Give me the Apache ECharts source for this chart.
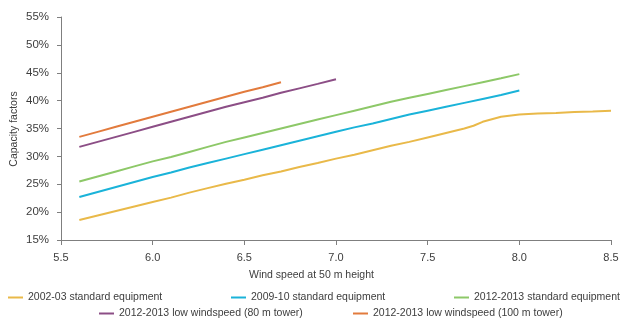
<!DOCTYPE html>
<html>
<head>
<meta charset="utf-8">
<script src="https://cdn.jsdelivr.net/npm/echarts@6/dist/echarts.min.js"></script>
<style>
  html, body { margin: 0; padding: 0; background: #fff; }
  #chart { width: 637px; height: 330px; }
</style>
</head>
<body>
<div id="chart"></div>
<script>
// Wind speed at 50 m height (m/s) for each curve
const speeds2002 = [5.6, 5.7, 5.8, 5.9, 6.0, 6.1, 6.2, 6.3, 6.4, 6.5, 6.6, 6.7, 6.8, 6.9, 7.0, 7.1, 7.2, 7.3, 7.4, 7.5, 7.6, 7.7, 7.75, 7.8, 7.9, 8.0, 8.1, 8.2, 8.3, 8.4, 8.5];
const speedsStd = [5.6, 5.7, 5.8, 5.9, 6.0, 6.1, 6.2, 6.3, 6.4, 6.5, 6.6, 6.7, 6.8, 6.9, 7.0, 7.1, 7.2, 7.3, 7.4, 7.5, 7.6, 7.7, 7.8, 7.9, 8.0];
const speedsLow80 = [5.6, 5.7, 5.8, 5.9, 6.0, 6.1, 6.2, 6.3, 6.4, 6.5, 6.6, 6.7, 6.8, 6.9, 7.0];
const speedsLow100 = [5.6, 5.7, 5.8, 5.9, 6.0, 6.1, 6.2, 6.3, 6.4, 6.5, 6.6, 6.7];

// Capacity factors (%)
const cf2002 = [18.6, 19.4, 20.2, 21.0, 21.8, 22.6, 23.5, 24.3, 25.1, 25.8, 26.6, 27.3, 28.1, 28.8, 29.6, 30.3, 31.1, 31.9, 32.6, 33.4, 34.2, 35.0, 35.5, 36.2, 37.1, 37.5, 37.7, 37.8, 37.95, 38.05, 38.2];
const cf2009 = [22.7, 23.6, 24.5, 25.4, 26.3, 27.1, 28.0, 28.8, 29.6, 30.4, 31.2, 32.0, 32.8, 33.6, 34.4, 35.2, 35.9, 36.7, 37.5, 38.2, 38.9, 39.6, 40.3, 41.0, 41.8];
const cf2012 = [25.5, 26.4, 27.3, 28.2, 29.1, 29.9, 30.8, 31.7, 32.6, 33.4, 34.2, 35.0, 35.8, 36.6, 37.4, 38.2, 39.0, 39.8, 40.5, 41.2, 41.9, 42.6, 43.3, 44.0, 44.75];
const cfLow80 = [31.7, 32.6, 33.5, 34.4, 35.3, 36.2, 37.1, 38.0, 38.9, 39.7, 40.5, 41.4, 42.2, 43.0, 43.85];
const cfLow100 = [33.5, 34.4, 35.3, 36.2, 37.1, 38.0, 38.9, 39.8, 40.7, 41.6, 42.4, 43.3];

const seriesNames = [
  '2002-03 standard equipment',
  '2009-10 standard equipment',
  '2012-2013 standard equipment',
  '2012-2013 low windspeed (80 m tower)',
  '2012-2013 low windspeed (100 m tower)'
];
const seriesColors = ['#E9B949', '#1AB3D9', '#8DC868', '#8C4E86', '#E27B3D'];

const FONT = "'Liberation Sans', Arial, sans-serif";
const TEXT = '#3d3d3d';
const AXIS = '#7f7f7f';

function pairs(xs, ys) { return xs.map((x, i) => [x, ys[i]]); }

const seriesData = [
  pairs(speeds2002, cf2002),
  pairs(speedsStd, cf2009),
  pairs(speedsStd, cf2012),
  pairs(speedsLow80, cfLow80),
  pairs(speedsLow100, cfLow100)
];

// one legend per entry so each sits on its own spot in the two rows
const legendSpots = [
  { left: 8, top: 292 },
  { left: 231, top: 292 },
  { left: 454, top: 292 },
  { left: 99, top: 308 },
  { left: 353, top: 308 }
];

const chart = echarts.init(document.getElementById('chart'), null, { renderer: 'canvas' });
chart.setOption({
  animation: false,
  textStyle: { fontFamily: FONT, color: TEXT },
  grid: { left: 61, right: 26, top: 17, bottom: 90, containLabel: false, outerBoundsMode: 'none' },
  legend: legendSpots.map((p, i) => ({
    data: [seriesNames[i]],
    left: p.left,
    top: p.top,
    icon: 'rect',
    itemWidth: 15,
    itemHeight: 2,
    itemGap: 0,
    padding: 0,
    textStyle: { fontFamily: FONT, fontSize: 10.5, color: TEXT }
  })),
  xAxis: {
    type: 'value',
    min: 5.5,
    max: 8.5,
    interval: 0.5,
    axisLine: { lineStyle: { color: AXIS, width: 1 } },
    axisTick: { show: true, length: 5, lineStyle: { color: AXIS } },
    splitLine: { show: false },
    axisLabel: { color: TEXT, fontSize: 11, fontFamily: FONT, margin: 12, formatter: v => v.toFixed(1) }
  },
  yAxis: {
    type: 'value',
    min: 15,
    max: 55,
    interval: 5,
    axisLine: { show: true, lineStyle: { color: AXIS, width: 1 } },
    axisTick: { show: true, length: 4, lineStyle: { color: AXIS } },
    splitLine: { show: false },
    axisLabel: { color: TEXT, fontSize: 11.5, fontFamily: FONT, margin: 12, formatter: '{value}%' }
  },
  graphic: [
    {
      type: 'text',
      left: 249,
      top: 270,
      style: { text: 'Wind speed at 50 m height', fill: TEXT, font: "10.5px " + FONT }
    },
    {
      // vertical axis title, read bottom to top
      type: 'text',
      x: 14,
      y: 129,
      rotation: Math.PI / 2,
      style: {
        text: 'Capacity factors',
        fill: TEXT,
        font: "10.5px " + FONT,
        textAlign: 'center',
        textVerticalAlign: 'middle',
        align: 'center',
        verticalAlign: 'middle'
      }
    }
  ],
  series: seriesData.map((d, i) => ({
    name: seriesNames[i],
    type: 'line',
    data: d,
    showSymbol: false,
    symbol: 'none',
    smooth: false,
    lineStyle: { color: seriesColors[i], width: 2 },
    itemStyle: { color: seriesColors[i] }
  }))
});
</script>
</body>
</html>
